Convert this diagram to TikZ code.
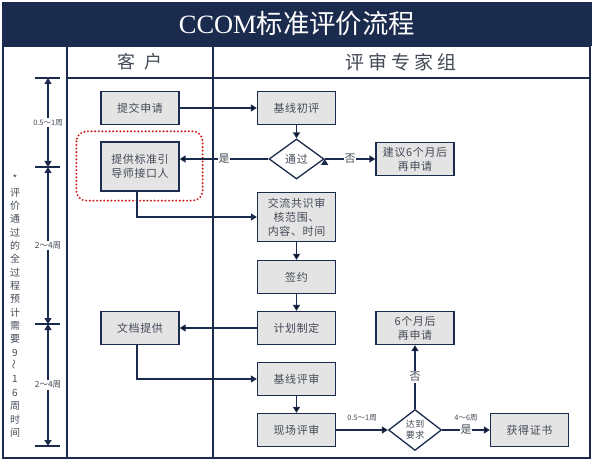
\documentclass[tikz,border=0pt]{standalone}
\usepackage{fontspec}
\setmainfont{Liberation Serif}
\newfontfamily\cjk[LetterSpace=6]{Noto Sans CJK SC}
\newfontfamily\cjkhead[LetterSpace=22]{Noto Sans CJK SC}
\newfontfamily\cjkbase{Noto Sans CJK SC}
\usetikzlibrary{shapes.geometric,arrows.meta,positioning,calc}
\definecolor{navy}{HTML}{1B2B4D}
\definecolor{boxgray}{HTML}{E4E4E4}
\definecolor{txtgray}{HTML}{434A56}
\definecolor{dotred}{HTML}{D01818}

\begin{document}
\begin{tikzpicture}[x=1bp,y=-1bp,node distance=50bp,on grid,
  box/.style={draw=navy,fill=boxgray,line width=1.3bp,minimum width=78bp,minimum height=33bp,inner sep=2bp,align=center,text=txtgray,font=\cjk\fontsize{11}{14}\selectfont},
  dia/.style={diamond,draw=navy,fill=white,line width=1.3bp,minimum width=55bp,minimum height=40bp,inner sep=0pt,align=center,text=txtgray,font=\cjk\fontsize{11}{13}\selectfont},
  flow/.style={draw=navy,line width=1.3bp,-{Triangle[length=6bp,width=7bp]}},
  lbl/.style={fill=white,inner sep=1bp,text=txtgray,font=\cjkbase\fontsize{11}{13}\selectfont},
  tm/.style={inner sep=1bp,text=txtgray,font=\cjkbase\fontsize{7.5}{9}\selectfont}]
   \useasboundingbox (0,0) rectangle (594,463);
   \fill[navy] (2,2) rectangle (592,46);
   \node[text=white,font=\fontsize{26.5}{30}\selectfont] (title) at (297,24) {CCOM{\cjkbase 标准评价流程}};
   \draw[navy,line width=1.5bp] (3,46) rectangle (590,458);
   \draw[navy,line width=1.3bp] (67,46) -- (67,458) (213,46) -- (213,458) (67,78) -- (590,78);
   \node[text=txtgray,font=\cjkhead\fontsize{18}{20}\selectfont] (kh) at (140,62) {客\hspace{9bp}户};
   \node[text=txtgray,font=\cjkhead\fontsize{19}{20}\selectfont] (zjz) at (401,62) {评审专家组};

   \coordinate (t1) at (48,78);
   \coordinate (t2) at (48,167);
   \coordinate (t3) at (48,324);
   \coordinate (t4) at (48,446);
   \foreach \t in {t1,t2,t3,t4}
     \draw[navy,line width=1.3bp] ([xshift=-13bp]\t) -- ([xshift=12bp]\t);
   \draw[navy,line width=1.3bp,{Triangle[length=6bp,width=7bp]}-{Triangle[length=6bp,width=7bp]}]
     (t1) -- node[tm,fill=white]{0.5～1周} (t2);
   \draw[navy,line width=1.3bp,{Triangle[length=6bp,width=7bp]}-{Triangle[length=6bp,width=7bp]}]
     (t2) -- node[tm,fill=white,font=\cjkbase\fontsize{8.5}{10}\selectfont]{2～4周} (t3);
   \draw[navy,line width=1.3bp,{Triangle[length=6bp,width=7bp]}-{Triangle[length=6bp,width=7bp]}]
     (t3) -- node[tm,fill=white,font=\cjkbase\fontsize{8.5}{10}\selectfont]{2～4周} (t4);
   \node[text=txtgray,align=center,inner sep=0pt,font=\cjkbase\fontsize{10}{13.4}\selectfont] (note) at (15,306)
     {*\\评\\价\\通\\过\\的\\全\\过\\程\\预\\计\\需\\要\\9\\\rotatebox{90}{～}\\1\\6\\周\\时\\间};

   \node[box] (tjsq) at (140,108) {提交申请};
   \node[box] (jxcp) [right=156.5bp of tjsq] {基线初评};
   \node[dia] (tg) [below=51bp of jxcp] {通过};
   \node[box] (jy) [right=118.5bp of tg] {建议6个月后\\再申请};
   \node[box,minimum height=49bp] (tgy) [below=58.5bp of tjsq] {提供标准引\\导师接口人};
   \node[box,minimum height=49bp] (jl) [below=58bp of tg] {交流共识审\\核范围、\\内容、时间};
   \node[box] (qy) [below=60bp of jl] {签约};
   \node[box] (jh) [below=51bp of qy] {计划制定};
   \node[box] (wd) [left=156.5bp of jh] {文档提供};
   \node[box] (zsq) [right=118.5bp of jh] {6个月后\\再申请};
   \node[box] (jxps) [below=51bp of jh] {基线评审};
   \node[box] (xc) [below=51bp of jxps] {现场评审};
   \node[dia,minimum width=53bp,minimum height=41bp,font=\cjk\fontsize{9}{11}\selectfont] (dd) [right=118.5bp of xc] {达到\\要求};
   \node[box] (hd) [right=114.5bp of dd] {获得证书};

   \draw[dotred,line width=2.2bp,line cap=round,dash pattern=on 0bp off 3.6bp,rounded corners=10bp]
     ([xshift=-24bp,yshift=10bp]tgy.north west) rectangle ([xshift=23bp,yshift=-9bp]tgy.south east);

    \path[flow]
    (tjsq) edge (jxcp)
    (jxcp) edge (tg)
    (tg.west) edge node[lbl] {是} (tg.west -| tgy.east)
    (tg.east) edge node[lbl] {否} (tg.east -| jy.west)
    (jl) edge (qy)
    (qy) edge (jh)
    (jh) edge (wd)
    (jxps) edge (xc)
    (xc) edge node[tm,above=7bp] {0.5～1周} (dd)
    (dd) edge node[lbl] {否} (zsq)
    (dd) edge node[tm,above=7bp] {4～6周} node[lbl] {是} (hd);
    \draw[flow] ([xshift=-3bp]tgy.south) |- (jl.west);
    \draw[flow] ([xshift=-3bp]wd.south) |- (jxps.west);
\end{tikzpicture}
\end{document}
